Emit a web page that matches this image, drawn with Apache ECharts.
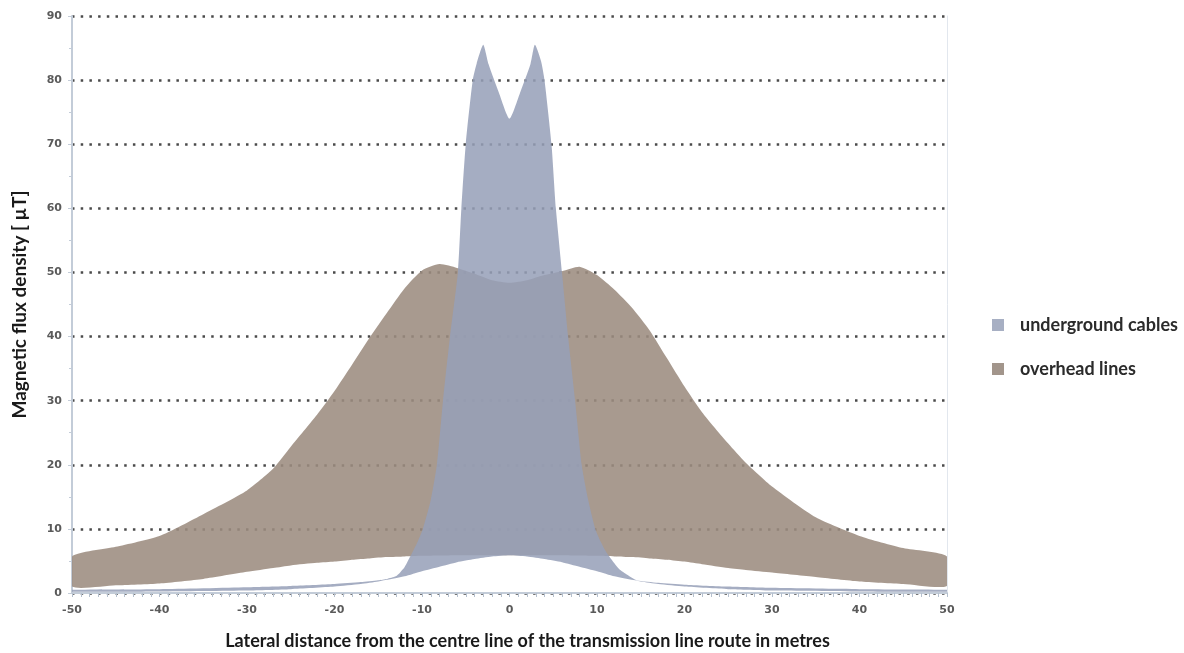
<!DOCTYPE html>
<html>
<head>
<meta charset="utf-8">
<script src="https://cdn.jsdelivr.net/npm/echarts@6/dist/echarts.min.js"></script>
<style>
html,body{margin:0;padding:0;background:#fff;}
#chart{width:1184px;height:653px;}
</style>
</head>
<body>
<div id="chart"></div>
<script>
// ---- Data ----
const seriesNames = ['underground cables', 'overhead lines'];

// Overhead lines band (upper and lower envelope)
const ohX     = [-50,-45,-40,-35,-30,-27,-25,-22,-20,-18,-16,-14,-12,-10,-8,-6,-4,-2,0,2,4,6,8,10,12,14,16,18,20,22,25,27,30,35,40,45,50];
const ohUpper = [5.7,7.2,8.9,12.3,16.0,19.4,22.8,27.8,31.5,35.6,39.8,43.7,47.5,50.3,51.3,50.7,49.8,48.8,48.4,48.8,49.6,50.2,50.9,49.6,47.3,44.5,41.0,36.6,32.2,28.2,23.3,20.3,16.6,11.8,8.9,7.0,5.7];
const ohLower = [1.0,1.2,1.5,2.2,3.3,3.9,4.3,4.7,4.9,5.2,5.4,5.6,5.7,5.8,5.85,5.9,5.9,5.9,5.9,5.9,5.9,5.9,5.85,5.8,5.7,5.6,5.4,5.2,4.9,4.5,3.9,3.6,3.2,2.5,1.8,1.4,1.1];

// Underground cables band (upper envelope)
const ugUpX = [-50,-40,-30,-25,-20,-17,-15,-14,-13,-12.5,-12,-11.5,-11,-10.5,-9.9,-9,-8.3,-7.6,-6.8,-5.9,-5.5,-5,-4.2,-3.75,-3,-2.4,-1.2,0,1.2,2.4,2.9,3.6,4.0,4.8,5.3,6.0,6.7,7.5,8.25,9.0,9.8,10.5,11,11.5,12.5,13.5,14.5,17,20,25,30,40,50];
const ugUpY = [0.5,0.6,0.9,1.1,1.4,1.7,2.0,2.2,2.6,3.2,4.0,5.3,6.6,8.0,10,14.5,20,30,40,50,60,70,80,82.6,85.5,82.5,78,74,78,82.5,85.5,83,80,70,60,50,40,30,20,14.5,10,7.8,6.5,5.5,3.8,2.8,2.0,1.6,1.3,1.0,0.8,0.6,0.5];

// Underground cables band (lower envelope)
const ugLoX = [-50,-40,-30,-25,-20,-17,-15,-12,-10,-8,-6,-4,-2,0,2,4,6,8,10,12,15,17,20,25,30,40,50];
const ugLoY = [0.2,0.25,0.4,0.6,1.0,1.4,1.8,2.6,3.4,4.1,4.8,5.3,5.7,5.9,5.7,5.3,4.8,4.1,3.4,2.6,1.8,1.4,1.0,0.6,0.4,0.25,0.2];

// Axis ranges / ticks
const xMin = -50, xMax = 50, xStep = 10;
const yMin = 0, yMax = 90, yStep = 10;

const colors = {
  underground: 'rgba(150,160,184,0.86)',
  overhead: 'rgba(156,140,128,0.88)',
  ugLegend: '#a7afc3',
  ohLegend: '#a2958b'
};

function bandRenderer(upX, upY, loX, loY, fill) {
  return function (params, api) {
    if (params.dataIndex !== 0) return null;
    const pts = [];
    for (let i = 0; i < upX.length; i++) pts.push(api.coord([upX[i], upY[i]]));
    for (let i = loX.length - 1; i >= 0; i--) pts.push(api.coord([loX[i], loY[i]]));
    const cs = params.coordSys;
    return {
      type: 'polygon',
      shape: { points: pts, smooth: 0.2, smoothConstraint: [[cs.x, cs.y], [cs.x + cs.width, cs.y + cs.height]] },
      style: { fill: fill }
    };
  };
}

const chart = echarts.init(document.getElementById('chart'), null, { renderer: 'canvas' });
const titleFont = 'Lato';
const tickFont = 'DejaVu Sans';

chart.setOption({
  animation: false,
  backgroundColor: '#ffffff',
  grid: { left: 72, right: 237, top: 16, bottom: 60, outerBoundsMode: 'none', containLabel: false },
  legend: {
    orient: 'vertical',
    left: 987,
    top: 311,
    itemWidth: 12,
    itemHeight: 12,
    itemGap: 26,
    icon: 'rect',
    textStyle: { fontFamily: titleFont, fontWeight: 'bold', fontSize: 18, color: '#2b2b2b', padding: [0, 0, 0, 11] },
    data: [
      { name: seriesNames[0], itemStyle: { color: colors.ugLegend } },
      { name: seriesNames[1], itemStyle: { color: colors.ohLegend } }
    ]
  },
  xAxis: {
    type: 'value',
    min: xMin, max: xMax, interval: xStep,
    z: 5,
    name: 'Lateral distance from the centre line of the transmission line route in metres',
    nameLocation: 'middle',
    nameGap: 39,
    nameTextStyle: { fontFamily: titleFont, fontWeight: 'bold', fontSize: 18, color: '#1a1a1a', padding: [0, 0, 0, 36] },
    axisLine: { show: true, onZero: false, lineStyle: { color: '#c3ccd8', width: 2 } },
    axisTick: { show: true, length: 4, lineStyle: { color: '#b5c0ce' } },
    minorTick: { show: true, splitNumber: 10, length: 4, lineStyle: { color: '#b5c0ce' } },
    axisLabel: { fontFamily: tickFont, fontWeight: 'bold', fontSize: 11, color: '#5a5a5a', margin: 12 },
    splitLine: { show: false }
  },
  yAxis: [{
    type: 'value',
    min: yMin, max: yMax, interval: yStep,
    name: 'Magnetic flux density [ µT]',
    nameLocation: 'middle',
    nameGap: 43,
    nameTextStyle: { fontFamily: titleFont, fontWeight: 'bold', fontSize: 19, color: '#1a1a1a' },
    axisLine: { show: true, onZero: false, lineStyle: { color: '#c3ccd8', width: 2 } },
    axisTick: { show: true, length: 4, lineStyle: { color: '#c3ccd8' } },
    minorTick: { show: true, splitNumber: 2, length: 3, lineStyle: { color: '#c3ccd8' } },
    axisLabel: { fontFamily: tickFont, fontWeight: 'bold', fontSize: 11, color: '#5a5a5a', margin: 10 },
    splitLine: { show: true, lineStyle: { color: '#4a4a4a', width: 2.5, type: [2.5, 6.2] } }
  }, {
    type: 'value',
    min: yMin, max: yMax, interval: yStep,
    position: 'right',
    axisLine: { show: true, onZero: false, lineStyle: { color: '#e2e7ee', width: 1 } },
    axisTick: { show: false },
    axisLabel: { show: false },
    splitLine: { show: false }
  }],
  series: [
    {
      name: seriesNames[1],
      type: 'custom',
      coordinateSystem: 'cartesian2d',
      clip: true,
      itemStyle: { color: colors.ohLegend },
      encode: { x: 0, y: 1 },
      data: ohX.map((x, i) => [x, ohUpper[i]]),
      renderItem: bandRenderer(ohX, ohUpper, ohX, ohLower, colors.overhead),
      z: 2
    },
    {
      name: seriesNames[0],
      type: 'custom',
      coordinateSystem: 'cartesian2d',
      clip: true,
      itemStyle: { color: colors.ugLegend },
      encode: { x: 0, y: 1 },
      data: ugUpX.map((x, i) => [x, ugUpY[i]]),
      renderItem: bandRenderer(ugUpX, ugUpY, ugLoX, ugLoY, colors.underground),
      z: 3
    }
  ]
});
</script>
</body>
</html>
